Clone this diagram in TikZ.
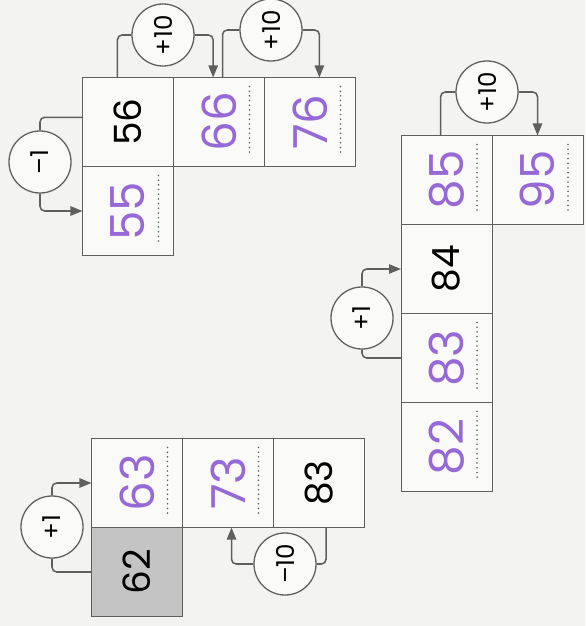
\documentclass[tikz,border=0pt]{standalone}
\usepackage{fontspec}
\setmainfont{Poppins}
\usepackage{xcolor}
\usepackage{tikz}
\usetikzlibrary{arrows.meta,positioning,calc}

\definecolor{paper}{RGB}{243,243,241}
\definecolor{inkgray}{RGB}{95,95,95}
\definecolor{shade}{RGB}{196,196,196}
\definecolor{pen}{RGB}{150,105,215}
\newcommand{\upnum}[1]{\rotatebox{90}{#1}}

\begin{document}
\begin{tikzpicture}[
    x=0.03cm, y=-0.03cm,
    cell/.style={rectangle, draw=inkgray, line width=0.8pt, fill=white!60!paper, minimum width=2.73cm, minimum height=2.67cm, inner sep=0pt, outer sep=0pt, font=\fontsize{32}{32}\selectfont},
    given/.style={cell, fill=shade},
    hand/.style={cell, text=pen, font=\fontsize{40}{40}\selectfont},
    op/.style={circle, draw=inkgray, line width=1.1pt, fill=white!60!paper, minimum size=1.86cm, inner sep=0pt, font=\fontsize{21}{21}\selectfont},
    link/.style={draw=inkgray, line width=1.3pt, rounded corners=4pt},
    arrow/.style={link, -{Triangle[length=3.6mm,width=2.8mm]}},
    dotline/.style={inkgray, line width=1.5pt, line cap=round, dash pattern=on 0pt off 4pt}
]
    \fill[paper] (0,0) rectangle (585,626);
    \useasboundingbox (0,0) rectangle (585,626);

    % 56 row
    \node[cell] (a56) at (128,122) {\upnum{56}};
    \node[hand, below=0pt of a56] (a55) {\upnum{55}};
    \node[hand, right=0pt of a56] (a66) {\upnum{66}};
    \node[hand, right=0pt of a66] (a76) {\upnum{76}};
    \node[op] (am1) at (40,162) {\upnum{–1}};
    \node[op] (ap1) at (163,35) {\upnum{+10}};
    \node[op] (ap2) at (271,30) {\upnum{+10}};

    % 62 row
    \node[given] (b62) at (137,572) {\upnum{62}};
    \node[hand, above=0pt of b62] (b63) {\upnum{63}};
    \node[hand, right=0pt of b63] (b73) {\upnum{73}};
    \node[cell, right=0pt of b73] (b83) {\upnum{83}};
    \node[op] (bp1) at (52,527) {\upnum{+1}};
    \node[op] (bm1) at (285,564) {\upnum{–10}};

    % 84 row
    \node[cell] (c84) at (446.5,269) {\upnum{84}};
    \node[hand, above=0pt of c84] (c85) {\upnum{85}};
    \node[hand, right=0pt of c85] (c95) {\upnum{95}};
    \node[hand, below=0pt of c84] (c83) {\upnum{83}};
    \node[hand, below=0pt of c83] (c82) {\upnum{82}};
    \node[op] (cp1) at (362,318) {\upnum{+1}};
    \node[op] (cp2) at (487,92) {\upnum{+10}};

    \foreach \c in {a55,a66,a76,b63,b73,c85,c95,c83,c82}
        \draw[dotline] ($(\c.north east)+(-15,9)$) -- ($(\c.south east)+(-15,-12)$);

    \draw[link] ([yshift=4pt]a56.west) -| (am1.north);
    \draw[arrow] (am1.south) |- (a55.west);
    \draw[link] ([xshift=-9pt]a56.north) |- (ap1.west);
    \draw[arrow] (ap1.east) -| ([xshift=-5pt]a66.north);
    \draw[link] ([xshift=3pt]a66.north) |- (ap2.west);
    \draw[arrow] (ap2.east) -| ([xshift=8pt]a76.north);

    \draw[link] (b62.west) -| (bp1.south);
    \draw[arrow] (bp1.north) |- (b63.west);
    \draw[link] ([xshift=6pt]b83.south) |- (bm1.east);
    \draw[arrow] (bm1.west) -| ([xshift=3pt]b73.south);

    \draw[link] (c83.west) -| (cp1.south);
    \draw[arrow] (cp1.north) |- (c84.west);
    \draw[link] ([xshift=-5pt]c85.north) |- (cp2.west);
    \draw[arrow] (cp2.east) -| (c95.north);
\end{tikzpicture}
\end{document}
